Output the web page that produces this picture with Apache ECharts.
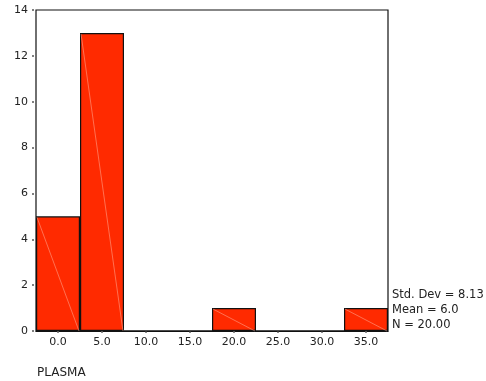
<!DOCTYPE html>
<html>
<head>
<meta charset="utf-8">
<script src="https://cdn.jsdelivr.net/npm/echarts@6/dist/echarts.min.js"></script>
<style>html,body{margin:0;padding:0;background:#fff}#c{width:486px;height:381px}</style>
</head>
<body>
<div id="c"></div>
<script>
const categories = ['0.0', '5.0', '10.0', '15.0', '20.0', '25.0', '30.0', '35.0'];
const counts = [5, 13, 0, 0, 1, 0, 0, 1];
const yTicks = [0, 2, 4, 6, 8, 10, 12, 14];
const statsLines = ['Std. Dev = 8.13', 'Mean = 6.0', 'N = 20.00'];
const axisTitle = 'PLASMA';

const font = 'DejaVu Sans';
const chart = echarts.init(document.getElementById('c'), null, {renderer: 'canvas'});
const diag = counts.map((v, i) => [i, v]).filter(d => d[1] > 0);
chart.setOption({
  animation: false,
  grid: {left: 36, right: 98, top: 10, bottom: 50, show: true, borderColor: '#111', borderWidth: 1.2, backgroundColor: 'transparent'},
  xAxis: {
    type: 'category', data: categories, boundaryGap: true,
    axisLine: {show: true, lineStyle: {color: '#111', width: 1.2}},
    axisTick: {show: true, alignWithLabel: true, length: 2, lineStyle: {color: '#666', width: 1.5}},
    axisLabel: {color: '#222', fontFamily: font, fontSize: 11, margin: 6}
  },
  yAxis: {
    type: 'value', min: 0, max: 14, interval: 2, offset: 2,
    axisLine: {show: false},
    axisTick: {show: true, length: 2, lineStyle: {color: '#555', width: 1.5}},
    splitLine: {show: false},
    axisLabel: {color: '#222', fontFamily: font, fontSize: 11, margin: 6,
      formatter: v => yTicks.includes(v) ? String(v) : ''}
  },
  series: [
    {
      type: 'bar', data: counts, barCategoryGap: '0%',
      itemStyle: {color: '#ff2a00', borderColor: '#111', borderWidth: 1.2},
      silent: true
    },
    {
      type: 'custom', data: diag, silent: true, z: 5,
      renderItem: function (params, api) {
        const top = api.coord([api.value(0), api.value(1)]);
        const bot = api.coord([api.value(0), 0]);
        const w = api.size([1, 0])[0];
        return {
          type: 'line',
          shape: {x1: top[0] - w / 2 + 1, y1: top[1] + 1, x2: top[0] + w / 2 - 1, y2: bot[1]},
          style: {stroke: 'rgba(255,190,170,0.8)', lineWidth: 0.6}
        };
      }
    }
  ],
  graphic: [
    {type: 'text', left: 392, top: 288, style: {text: statsLines.join('\n'), fill: '#222', font: '11.5px "DejaVu Sans"', lineHeight: 15}},
    {type: 'text', left: 37, top: 367, style: {text: axisTitle, fill: '#222', font: '12px "DejaVu Sans"'}}
  ]
});
</script>
</body>
</html>
